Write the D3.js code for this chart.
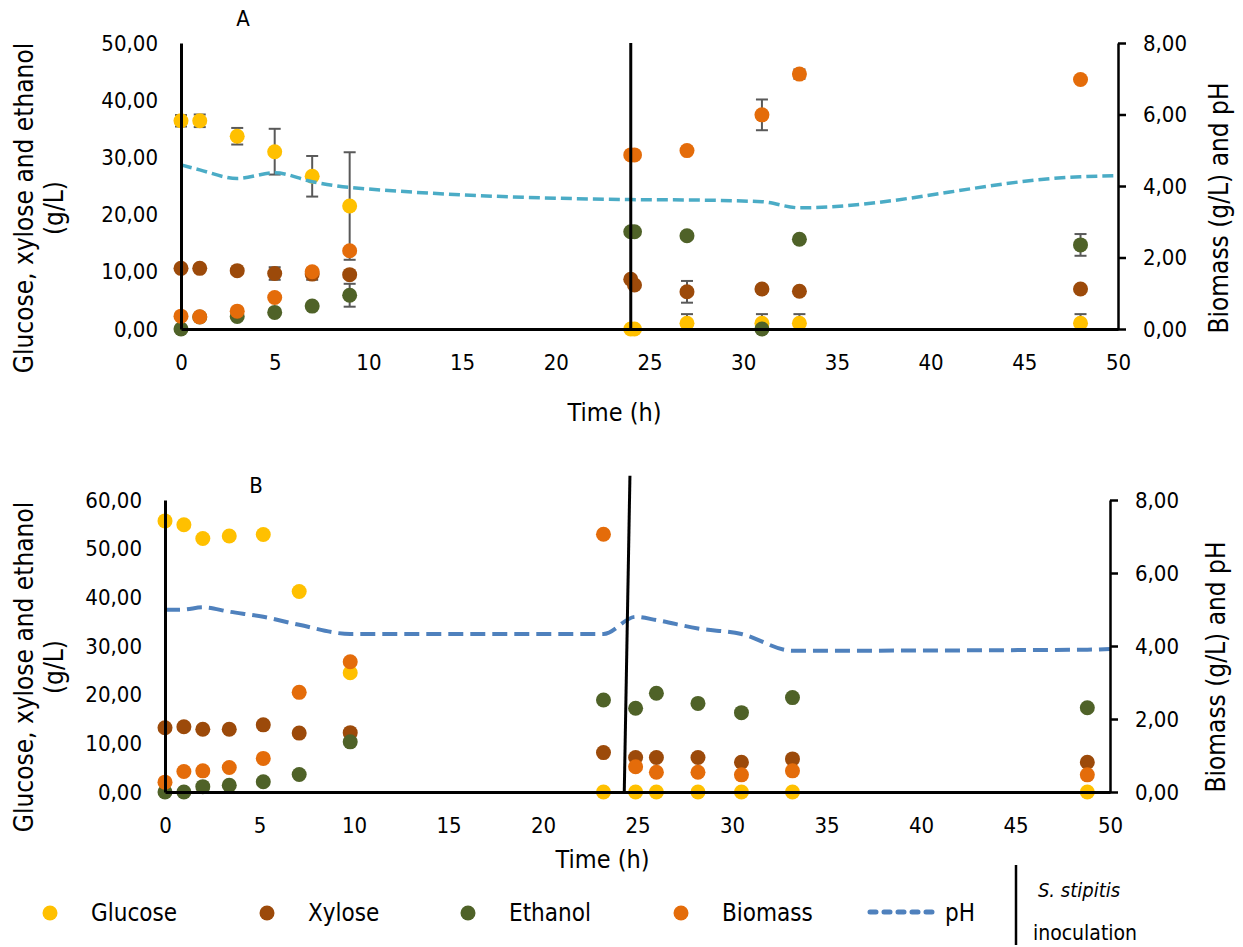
<!DOCTYPE html>
<meta charset="utf-8">
<style>
body { margin: 0; background: #fff; }
svg text { font-family: "DejaVu Sans Condensed", "DejaVu Sans", sans-serif; font-stretch: condensed; fill: #000; }
.tick text { font-size: 22px; }
.axis path, .axis line { stroke: #000; }
</style>
<svg width="1243" height="947"></svg>
<script src="https://cdn.jsdelivr.net/npm/d3@7"></script>
<script>

// ---- panel A data (left axis g/L, biomass & pH on right axis) ----
var timeA      = [0, 1, 3, 5, 7, 9, 24, 24.2, 27, 31, 33, 48];
var glucoseA   = [36.4, 36.4, 33.7, 31.0, 26.7, 21.5, 0, 0, 1.0, 1.0, 1.0, 1.0];
var glucoseErrA = [1.0, 1.1, 1.45, 4.0, 3.55, 9.4, 0, 0, 1.6, 1.6, 1.6, 1.6];
var xyloseA    = [10.6, 10.6, 10.2, 9.7, 9.6, 9.5, 8.7, 7.7, 6.5, 7.0, 6.6, 7.0];
var xyloseErrA = [0, 0, 0, 1.1, 1.0, 0, 0, 0, 1.9, 0, 0, 0];
var ethanolA   = [0, 2.1, 2.2, 2.9, 4.0, 5.9, 17.0, 17.0, 16.3, 0, 15.7, 14.7];
var ethanolErrA = [0, 0, 0, 0, 0, 2.0, 0, 0, 0, 0, 0, 1.9];
var biomassA   = [0.36, 0.34, 0.50, 0.88, 1.60, 2.19, 4.87, 4.87, 4.99, 5.99, 7.13, 6.98];
var biomassErrA = [0, 0, 0, 0, 0, 0, 0, 0, 0, 0.43, 0.13, 0];
var timePhA    = [0, 1, 3, 5, 7, 9, 24, 27, 31, 33, 48, 50];
var phA        = [4.59, 4.45, 4.21, 4.37, 4.12, 3.96, 3.62, 3.61, 3.56, 3.39, 4.26, 4.29];
var inoculationA = {t: [24, 24], v: [50, 0]};

// ---- panel B data ----
var timeB      = [0, 1, 2, 3.4, 5.2, 7.1, 9.8, 23.2, 24.9, 26, 28.2, 30.5, 33.2, 48.8];
var glucoseB   = [55.7, 54.9, 52.1, 52.6, 52.9, 41.2, 24.5, 0, 0, 0, 0, 0, 0, 0];
var xyloseB    = [13.2, 13.4, 12.9, 12.9, 13.8, 12.1, 12.2, 8.1, 7.1, 7.1, 7.1, 6.1, 6.8, 6.1];
var ethanolB   = [0, 0, 1.1, 1.4, 2.1, 3.6, 10.3, 18.9, 17.2, 20.3, 18.2, 16.3, 19.4, 17.3];
var biomassB   = [0.27, 0.56, 0.58, 0.67, 0.92, 2.73, 3.57, 7.06, 0.69, 0.54, 0.54, 0.47, 0.58, 0.47];
var timePhB    = [0, 1, 2, 3.4, 5.2, 7.1, 9.8, 23.2, 24.9, 26, 28.2, 30.5, 33.2, 48.8, 50];
var phB        = [4.99, 5.0, 5.06, 4.94, 4.80, 4.58, 4.33, 4.33, 4.80, 4.71, 4.48, 4.33, 3.87, 3.90, 3.92];
var inoculationB = {t: [24.6, 24.3], v: [65, 0]};

var xTicks = d3.range(0, 51, 5);
var leftTicksA = [0, 10, 20, 30, 40, 50];
var leftTicksB = [0, 10, 20, 30, 40, 50, 60];
var rightTicks = [0, 2, 4, 6, 8];

var seriesNames = ["Glucose", "Xylose", "Ethanol", "Biomass", "pH"];
var colors = {Glucose: "#ffc000", Xylose: "#9c4a0a", Ethanol: "#4f6228", Biomass: "#e46c0a"};

var svg = d3.select("svg");
svg.append("rect").attr("width", 1243).attr("height", 947).attr("fill", "#fff");

var comma = function(d) { return d.toFixed(2).replace(".", ","); };

function drawPanel(p) {
  var x = d3.scaleLinear().domain([0, 50]).range([p.left, p.right]),
      y = d3.scaleLinear().domain([0, p.yMax]).range([p.bottom, p.top]),
      y2 = d3.scaleLinear().domain([0, 8]).range([p.bottom, p.top]);
  var g = svg.append("g");

  // error bars go under the markers, clipped at the axis minimum
  p.series.forEach(function(s) {
    if (!s.err) return;
    var sc = s.right ? y2 : y;
    var rows = s.t.map(function(t, i) { return {t: t, v: s.v[i], e: s.err[i]}; })
      .filter(function(d) { return d.e > 0; });
    var eb = g.append("g").attr("stroke", "#595959").attr("stroke-width", 2);
    eb.selectAll("line.v").data(rows).enter().append("line")
      .attr("x1", function(d) { return x(d.t); }).attr("x2", function(d) { return x(d.t); })
      .attr("y1", function(d) { return sc(Math.max(0, d.v - d.e)); }).attr("y2", function(d) { return sc(d.v + d.e); });
    eb.selectAll(null).data(rows).enter().append("line")
      .attr("x1", function(d) { return x(d.t) - 6; }).attr("x2", function(d) { return x(d.t) + 6; })
      .attr("y1", function(d) { return sc(d.v + d.e); }).attr("y2", function(d) { return sc(d.v + d.e); });
    eb.selectAll(null).data(rows.filter(function(d) { return d.v - d.e >= 0; })).enter().append("line")
      .attr("x1", function(d) { return x(d.t) - 6; }).attr("x2", function(d) { return x(d.t) + 6; })
      .attr("y1", function(d) { return sc(d.v - d.e); }).attr("y2", function(d) { return sc(d.v - d.e); });
  });

  p.series.forEach(function(s) {
    var sc = s.right ? y2 : y;
    g.append("g").selectAll("circle")
      .data(s.t.map(function(t, i) { return {t: t, v: s.v[i]}; }))
      .enter().append("circle")
        .attr("cx", function(d) { return x(d.t); })
        .attr("cy", function(d) { return sc(d.v); })
        .attr("r", 7.5)
        .attr("fill", colors[s.name]);
  });

  // pH line (right axis)
  var line = d3.line()
      .curve(d3.curveMonotoneX)
      .x(function(d) { return x(d[0]); })
      .y(function(d) { return y2(d[1]); });
  g.append("path")
      .datum(d3.zip(p.phT, p.ph))
      .attr("d", line)
      .attr("fill", "none")
      .attr("stroke", p.phColor)
      .attr("stroke-width", p.phWidth)
      .attr("stroke-dasharray", p.phDash);

  // axes
  var xa = g.append("g").attr("class", "axis")
      .attr("transform", "translate(0," + p.bottom + ")")
      .call(d3.axisBottom(x).tickValues(xTicks).tickSize(0).tickPadding(25).tickFormat(d3.format("d")));
  xa.select(".domain").attr("stroke-width", 3);

  var ya = g.append("g").attr("class", "axis")
      .attr("transform", "translate(" + p.left + ",0)")
      .call(d3.axisLeft(y).tickValues(p.leftTicks).tickSize(0).tickPadding(23).tickFormat(comma));
  ya.select(".domain").attr("stroke-width", 3);

  var ra = g.append("g").attr("class", "axis")
      .attr("transform", "translate(" + p.right + ",0)")
      .call(d3.axisRight(y2).tickValues(rightTicks).tickSize(8).tickSizeOuter(0).tickPadding(17).tickFormat(comma));
  ra.select(".domain").attr("stroke-width", 2.5);
  ra.selectAll(".tick line").attr("stroke-width", 2.5);

  g.selectAll(".axis").attr("font-family", null).attr("font-size", null);

  // S. stipitis inoculation marker
  g.append("line")
      .attr("x1", x(p.inoc.t[0])).attr("y1", y(p.inoc.v[0]))
      .attr("x2", x(p.inoc.t[1])).attr("y2", y(p.inoc.v[1]))
      .attr("stroke", "#000").attr("stroke-width", 3);

  // titles
  g.append("text").attr("x", p.labelX).attr("y", p.labelY)
      .attr("text-anchor", "middle").style("font-size", "22px").text(p.id);
  g.append("text").attr("x", (p.left + p.right) / 2 - 35).attr("y", p.timeY)
      .attr("text-anchor", "middle").style("font-size", "25px").text("Time (h)");
  var lt = g.append("text")
      .attr("transform", "translate(33," + p.titleY + ") rotate(-90)")
      .attr("text-anchor", "middle").style("font-size", "26px");
  lt.append("tspan").attr("x", 0).attr("y", 0).text("Glucose, xylose and ethanol");
  lt.append("tspan").attr("x", 0).attr("y", 30).text("(g/L)");
  g.append("text")
      .attr("transform", "translate(" + p.rightTitleX + "," + p.titleY + ") rotate(-90)")
      .attr("text-anchor", "middle").style("font-size", "26px")
      .text("Biomass (g/L) and pH");
}

drawPanel({
  id: "A", left: 181, right: 1118, top: 43, bottom: 329, yMax: 50, leftTicks: leftTicksA,
  series: [
    {name: "Glucose", t: timeA, v: glucoseA, err: glucoseErrA},
    {name: "Xylose", t: timeA, v: xyloseA, err: xyloseErrA},
    {name: "Ethanol", t: timeA, v: ethanolA, err: ethanolErrA},
    {name: "Biomass", t: timeA, v: biomassA, err: biomassErrA, right: true}
  ],
  phT: timePhA, ph: phA, phColor: "#4bacc6", phWidth: 3.5, phDash: "11,5",
  inoc: inoculationA,
  labelX: 243, labelY: 26, timeY: 421, titleY: 208, rightTitleX: 1228
});

drawPanel({
  id: "B", left: 165, right: 1110, top: 500, bottom: 792, yMax: 60, leftTicks: leftTicksB,
  series: [
    {name: "Glucose", t: timeB, v: glucoseB},
    {name: "Xylose", t: timeB, v: xyloseB},
    {name: "Ethanol", t: timeB, v: ethanolB},
    {name: "Biomass", t: timeB, v: biomassB, right: true}
  ],
  phT: timePhB, ph: phB, phColor: "#4f81bd", phWidth: 4, phDash: "15,7",
  inoc: inoculationB,
  labelX: 256, labelY: 493, timeY: 868, titleY: 667, rightTitleX: 1225
});

// legend
var legendX = [50, 267, 468, 681];
var lg = svg.append("g");
seriesNames.slice(0, 4).forEach(function(n, i) {
  lg.append("circle").attr("cx", legendX[i]).attr("cy", 913).attr("r", 7.5).attr("fill", colors[n]);
  lg.append("text").attr("x", legendX[i] + 41).attr("y", 921).style("font-size", "24px").text(n);
});
lg.append("line").attr("x1", 870).attr("x2", 938).attr("y1", 912).attr("y2", 912)
    .attr("stroke", "#4f81bd").attr("stroke-width", 5).attr("stroke-linecap", "round")
    .attr("stroke-dasharray", "6,8");
lg.append("text").attr("x", 945).attr("y", 921).style("font-size", "24px").text(seriesNames[4]);
lg.append("line").attr("x1", 1016).attr("x2", 1016).attr("y1", 865).attr("y2", 945)
    .attr("stroke", "#000").attr("stroke-width", 2.5);
lg.append("text").attr("x", 1079).attr("y", 897).attr("text-anchor", "middle")
    .style("font-size", "20px").style("font-style", "italic").text("S. stipitis");
lg.append("text").attr("x", 1085).attr("y", 940).attr("text-anchor", "middle")
    .style("font-size", "21px").text("inoculation");

</script>
